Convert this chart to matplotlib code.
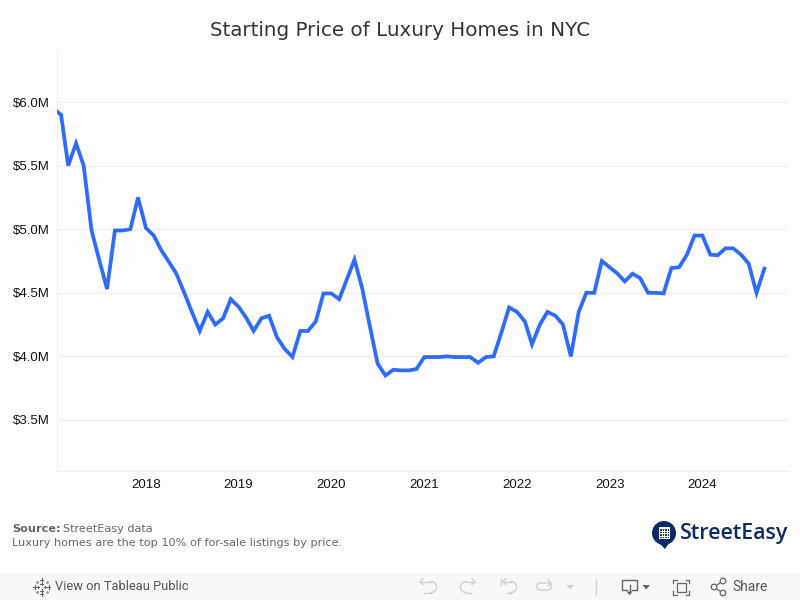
import matplotlib
matplotlib.use("Agg")
import matplotlib.dates as mdates
import matplotlib.pyplot as plt
import matplotlib.patches as mpatches
import numpy as np
import pandas as pd

# Monthly starting price, $M
start_month = "2017-01-01"
price_2017 = [5.95, 5.90, 5.50, 5.675, 5.50, 4.99, 4.76, 4.53, 4.99, 4.99, 5.00, 5.25]
price_2018 = [5.01, 4.95, 4.84, 4.745, 4.65, 4.50, 4.35, 4.20, 4.35, 4.25, 4.30, 4.45]
price_2019 = [4.39, 4.30, 4.20, 4.30, 4.32, 4.15, 4.06, 3.995, 4.20, 4.20, 4.275, 4.495]
price_2020 = [4.495, 4.45, 4.60, 4.76, 4.54, 4.235, 3.945, 3.85, 3.895, 3.89, 3.89, 3.90]
price_2021 = [3.995, 3.995, 3.995, 4.00, 3.995, 3.995, 3.995, 3.95, 3.995, 4.00, 4.19, 4.385]
price_2022 = [4.35, 4.275, 4.095, 4.25, 4.35, 4.32, 4.25, 4.00, 4.35, 4.50, 4.50, 4.75]
price_2023 = [4.70, 4.65, 4.59, 4.65, 4.615, 4.50, 4.50, 4.495, 4.695, 4.70, 4.80, 4.95]
price_2024 = [4.95, 4.80, 4.795, 4.85, 4.85, 4.80, 4.73, 4.50, 4.69]

prices = price_2017 + price_2018 + price_2019 + price_2020 + price_2021 + price_2022 + price_2023 + price_2024
months = pd.date_range(start_month, periods=len(prices), freq="MS")

y_ticks = [3.5, 4.0, 4.5, 5.0, 5.5, 6.0]
year_ticks = [2018, 2019, 2020, 2021, 2022, 2023, 2024]

TICK_FONT = ["Liberation Sans", "DejaVu Sans"]
W, H = 800, 600

fig = plt.figure(figsize=(8, 6), dpi=100)

# Chart
ax = fig.add_axes([57 / W, 1 - 471 / H, (788 - 57) / W, (471 - 50) / H])
ax.plot(months, prices, color="#2e6cff", lw=2.7, solid_joinstyle="miter", zorder=3)
ax.set_xlim(pd.Timestamp("2017-01-16"), pd.Timestamp("2024-12-03"))
ax.set_ylim(3.099, 6.409)

ax.set_yticks(y_ticks)
ax.set_yticklabels(["${:.1f}M".format(v) for v in y_ticks], family=TICK_FONT, fontsize=9.5, color="#111111")
ax.set_xticks([pd.Timestamp(year=y, month=1, day=1) for y in year_ticks])
ax.xaxis.set_major_formatter(mdates.DateFormatter("%Y"))
for label in ax.get_xticklabels():
    label.set_family(TICK_FONT)
    label.set_fontsize(9.5)
    label.set_color("#111111")
ax.tick_params(axis="x", length=0, pad=6)
ax.tick_params(axis="y", length=0, pad=5)
ax.grid(axis="y", color="#f0f0f0", lw=0.9)
ax.set_axisbelow(True)
for side in ["top", "right"]:
    ax.spines[side].set_visible(False)
ax.spines["left"].set_color("#f0f0f0")
ax.spines["bottom"].set_color("#f0f0f0")

# Everything around the chart, in pixel coordinates
page = fig.add_axes([0, 0, 1, 1], zorder=5)
page.set_xlim(0, W)
page.set_ylim(H, 0)
page.axis("off")
page.patch.set_alpha(0)

page.text(400.5, 30, "Starting Price of Luxury Homes in NYC", ha="center", va="center",
          fontsize=14.3, color="#333333", family="DejaVu Sans")

page.text(12, 528.5, "Source:", ha="left", va="center", fontsize=8.1, fontweight="bold", color="#666666")
page.text(63, 528.5, "StreetEasy data", ha="left", va="center", fontsize=8.1, color="#666666")
page.text(12, 542.5, "Luxury homes are the top 10% of for-sale listings by price.", ha="left", va="center",
          fontsize=8.15, color="#666666")

# StreetEasy logo
NAVY = "#0c2a66"
page.add_patch(mpatches.Circle((664, 533), 12, color=NAVY, lw=0))
page.add_patch(mpatches.Polygon([[659, 543], [669, 543], [665, 549]], color=NAVY, lw=0))
page.add_patch(mpatches.Rectangle((658.5, 527), 11, 12, color="white", lw=0))
for gx in np.arange(660, 668.5, 2.6):
    for gy in np.arange(529, 538, 2.6):
        page.add_patch(mpatches.Rectangle((gx, gy), 1.6, 1.6, color=NAVY, lw=0))
page.text(680, 534, "StreetEasy", ha="left", va="center", fontsize=15.4, fontweight="semibold",
          color=NAVY, family="Open Sans")

# Tableau toolbar
page.add_patch(mpatches.Rectangle((0, 573), W, 27, color="#f7f7f7", lw=0))
page.text(55, 587, "View on Tableau Public", ha="left", va="center", fontsize=9.3, color="#555555",
          family="Roboto")
page.text(732, 587, "Share", ha="left", va="center", fontsize=10, color="#555555", family="Roboto")

# Tableau mark
for cx, cy in [(41.5, 587)]:
    for d, arm in [(7, 1.6), (3.5, 1.2)]:
        for ox, oy in [(-d, 0), (d, 0), (0, -d), (0, d)]:
            page.plot([cx + ox - arm, cx + ox + arm], [cy + oy, cy + oy], color="#666666", lw=0.8)
            page.plot([cx + ox, cx + ox], [cy + oy - arm, cy + oy + arm], color="#666666", lw=0.8)
    page.plot([cx - 5, cx + 5], [cy - 5, cy + 5], color="#999999", lw=0, marker=".", ms=2)
    page.plot([cx - 5, cx + 5], [cy + 5, cy - 5], color="#999999", lw=0, marker=".", ms=2)

LIGHT = "#cfcfcf"
DARK = "#666666"


def arc_arrow(x0, x1, flip, color=LIGHT):
    # undo/redo style glyph
    r = 5.5
    theta = np.linspace(-np.pi / 2, np.pi / 2, 20)
    if flip:
        page.plot(x0 + r * np.cos(theta + np.pi), 587 + r * np.sin(theta), color=color, lw=1)
        page.plot([x0, x1], [581.5, 581.5], color=color, lw=1)
        page.plot([x0, x1 - 4], [592.5, 592.5], color=color, lw=1)
        page.plot([x1 - 3, x1, x1 - 3], [578.5, 581.5, 584.5], color=color, lw=1)
    else:
        page.plot(x1 + r * np.cos(theta), 587 + r * np.sin(theta), color=color, lw=1)
        page.plot([x0, x1], [581.5, 581.5], color=color, lw=1)
        page.plot([x0 + 4, x1], [592.5, 592.5], color=color, lw=1)
        page.plot([x0 + 3, x0, x0 + 3], [578.5, 581.5, 584.5], color=color, lw=1)


arc_arrow(420, 431, False)
arc_arrow(466, 475, True)
page.plot([500.5, 500.5], [579, 585], color=LIGHT, lw=1)
arc_arrow(503, 511, False)
page.add_patch(mpatches.FancyBboxPatch((537, 583), 14, 7, boxstyle="round,pad=0,rounding_size=3",
                                       fc="none", ec=LIGHT, lw=1))
page.plot([548, 551, 548], [580, 583, 586], color=LIGHT, lw=1)
page.add_patch(mpatches.Polygon([[566.5, 585], [574, 585], [570.2, 589.5]], color=LIGHT, lw=0))
page.plot([595.5, 595.5], [580, 594], color=LIGHT, lw=1)

# Download
page.plot([627, 622, 622, 637, 637, 632], [590, 590, 579.5, 579.5, 590, 590], color=DARK, lw=1)
page.plot([629.5, 629.5], [585, 593], color=DARK, lw=1)
page.add_patch(mpatches.Polygon([[626.5, 591.5], [632.5, 591.5], [629.5, 595]], color=DARK, lw=0))
page.add_patch(mpatches.Polygon([[642.5, 585], [650, 585], [646.2, 589.5]], color=DARK, lw=0))

# Full screen
page.add_patch(mpatches.Rectangle((676.5, 582.5), 9.5, 9.5, fc="none", ec=DARK, lw=0.9))
for sx, sy in [(673, 579.5), (689, 579.5), (673, 594.5), (689, 594.5)]:
    in_x = 1 if sx < 680 else -1
    in_y = 1 if sy < 587 else -1
    page.plot([sx + 3.5 * in_x, sx, sx], [sy, sy, sy + 3.5 * in_y], color=DARK, lw=0.9)

# Share
for cx, cy in [(714, 587), (723, 581), (723, 593)]:
    page.add_patch(mpatches.Circle((cx, cy), 2.8, fc="#f7f7f7", ec=DARK, lw=0.9, zorder=3))
page.plot([723, 714, 723], [581, 587, 593], color=DARK, lw=0.9, zorder=2)

fig.savefig("out.png", dpi=100, facecolor="white")
